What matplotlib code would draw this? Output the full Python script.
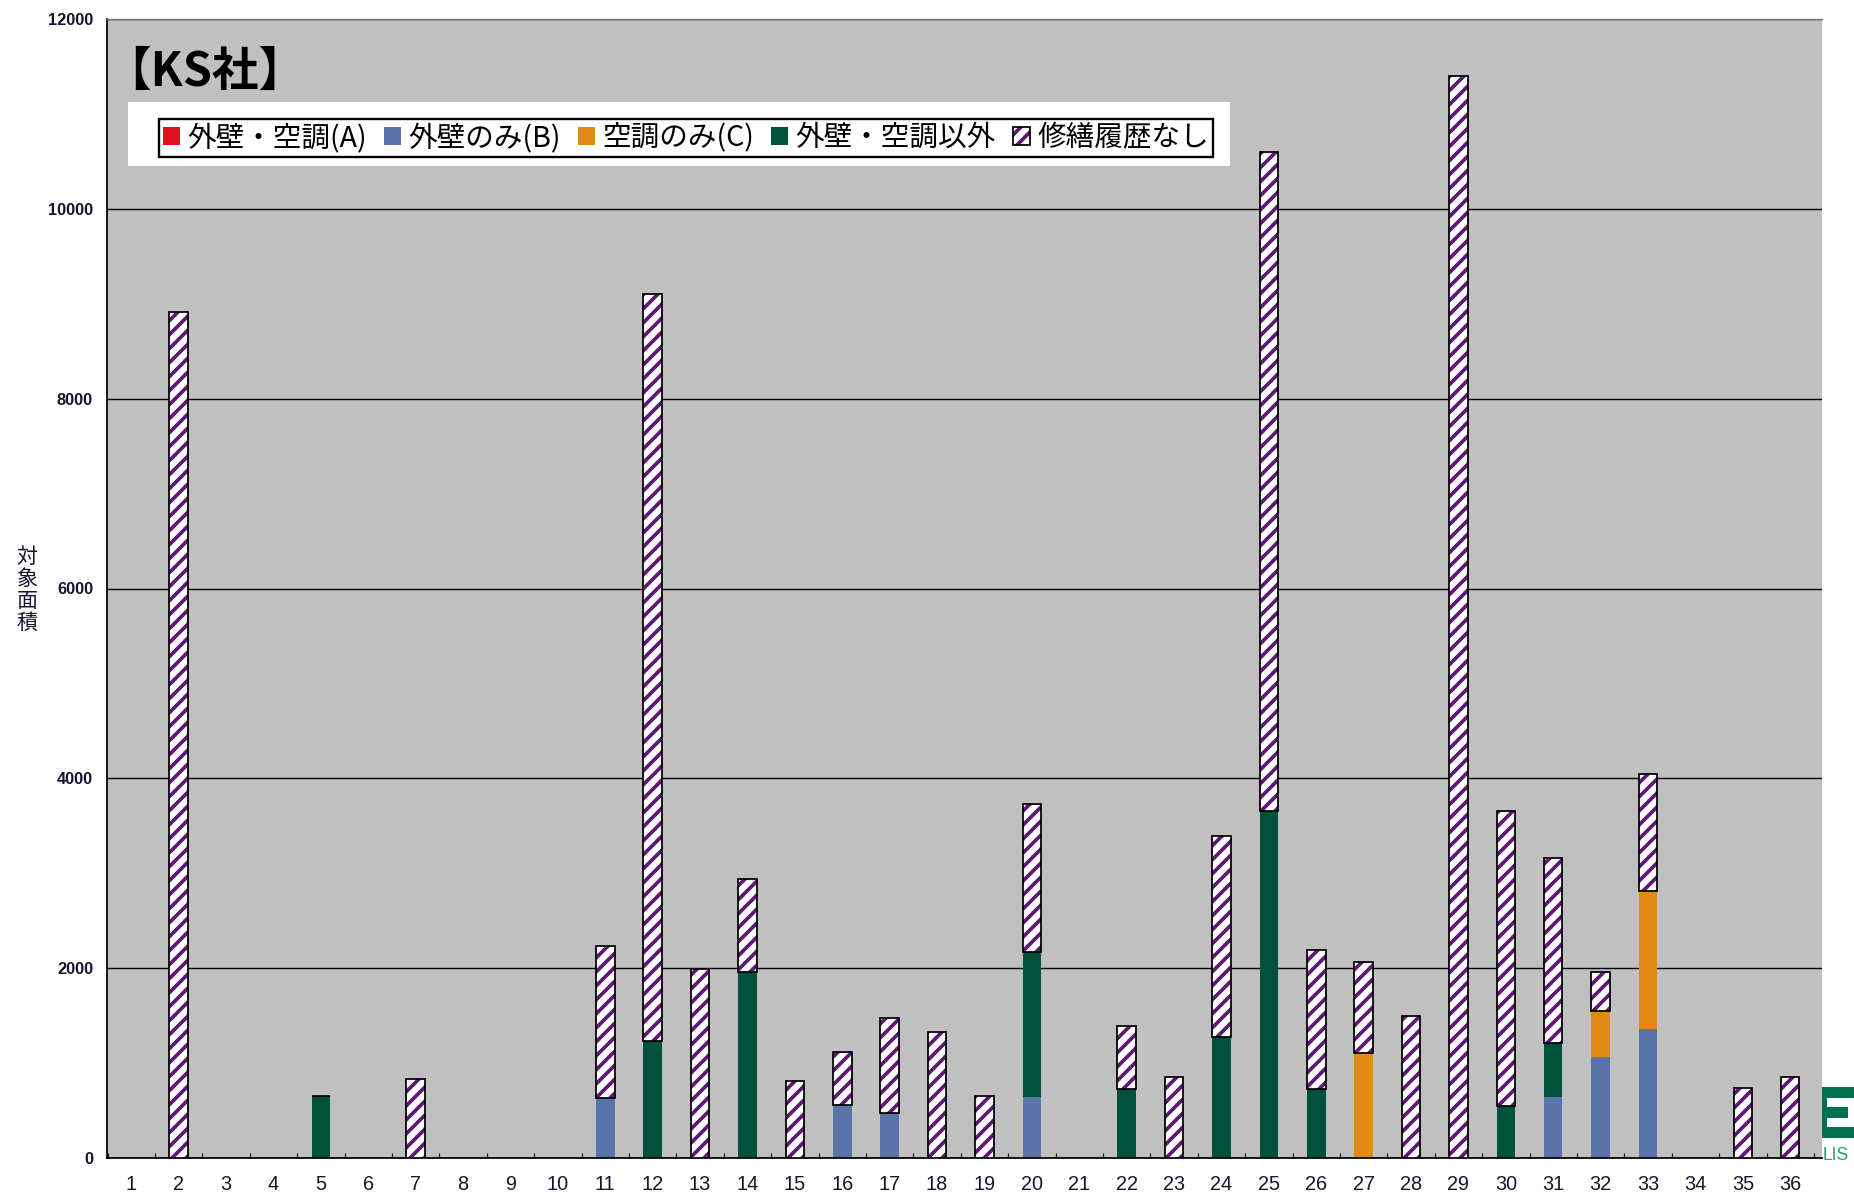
import numpy as np
import matplotlib
matplotlib.use('Agg')
import matplotlib.pyplot as plt
from matplotlib.patches import Patch, Rectangle
from matplotlib.legend_handler import HandlerTuple

plt.rcParams['font.family'] = ['Noto Sans CJK JP', 'DejaVu Sans']
plt.rcParams['hatch.linewidth'] = 3.2

# building numbers 1..36
buildings = np.arange(1, 37)
labels = [str(b) for b in buildings]

# target area per category (stacked bottom to top)
wall_ac = [0] * 36  # 外壁・空調(A)
wall_only = [0, 0, 0, 0, 0, 0, 0, 0, 0, 0,
             630, 0, 0, 0, 0, 555, 470, 0, 0, 645,
             0, 0, 0, 0, 0, 0, 0, 0, 0, 0,
             645, 1065, 1360, 0, 0, 0]
ac_only = [0, 0, 0, 0, 0, 0, 0, 0, 0, 0,
           0, 0, 0, 0, 0, 0, 0, 0, 0, 0,
           0, 0, 0, 0, 0, 0, 1110, 0, 0, 0,
           0, 485, 1455, 0, 0, 0]
other = [0, 0, 0, 0, 650, 0, 0, 0, 0, 0,
         0, 1235, 0, 1955, 0, 0, 0, 0, 0, 1530,
         0, 730, 0, 1270, 3655, 730, 0, 0, 0, 550,
         565, 0, 0, 0, 0, 0]
no_history = [0, 8910, 0, 0, 0, 0, 830, 0, 0, 0,
              1600, 7865, 1990, 980, 815, 560, 1000, 1330, 650, 1555,
              0, 665, 850, 2125, 6945, 1465, 950, 1495, 11400, 3105,
              1950, 410, 1230, 0, 735, 855]

series_names = ['外壁・空調(A)', '外壁のみ(B)', '空調のみ(C)', '外壁・空調以外', '修繕履歴なし']
colors = ['#E0101F', '#5A73A8', '#E08A14', '#00513A']
hatch_purple = '#5E1A72'

DPI = 84
fig = plt.figure(figsize=(1854 / DPI, 1196 / DPI), dpi=DPI)
ax = fig.add_axes([107 / 1854, 1 - 1158 / 1196, (1822 - 107) / 1854, (1158 - 19) / 1196])
ax.set_facecolor('#C0C0C0')

width = 0.39
bottom = np.zeros(36)
for vals, c in zip([wall_ac, wall_only, ac_only, other], colors):
    vals = np.array(vals, dtype=float)
    ax.bar(buildings, vals, width, bottom=bottom, color=c, linewidth=0, zorder=2)
    bottom += vals

# hatched part only for buildings that have any area
nh = np.array(no_history, dtype=float)
has = (bottom + nh) > 0
ax.bar(buildings[has], nh[has], width, bottom=bottom[has], facecolor='white',
       edgecolor=hatch_purple, hatch='//', linewidth=0, zorder=3)
ax.bar(buildings[has], nh[has], width, bottom=bottom[has], fill=False,
       edgecolor='black', linewidth=1.5, zorder=4)

ax.set_xlim(0.487, 36.67)
ax.set_ylim(0, 12000)
ax.set_yticks(np.arange(0, 12001, 2000))
ax.yaxis.grid(True, color='black', linewidth=1.2, zorder=1)
ax.set_axisbelow(True)

ax.set_xticks(buildings)
ax.set_xticklabels(labels, family=['Liberation Sans', 'DejaVu Sans'],
                   fontsize=17, color='#141430')
ax.set_xticks(np.arange(0.5, 37, 1), minor=True)
ax.tick_params(axis='x', which='major', length=0, pad=15)
ax.tick_params(axis='x', which='minor', direction='in', length=4.5, width=1, color='black')
ax.tick_params(axis='y', length=0, pad=12)
for t in ax.get_yticklabels():
    t.set_family(['Liberation Sans', 'DejaVu Sans'])
    t.set_fontweight('bold')
    t.set_fontsize(14)
    t.set_color('#141430')

ax.spines['right'].set_visible(False)
ax.spines['top'].set_color('#7A7A7A')
ax.spines['top'].set_linewidth(1.2)
ax.spines['left'].set_linewidth(1.5)
ax.spines['bottom'].set_linewidth(1.5)

fig.text(27 / 1854, 1 - 590 / 1196, '対\n象\n面\n積', ha='center', va='center',
         fontsize=18, linespacing=1.0, color='#141430')

fig.text(104 / 1854, 1 - 72 / 1196, '【KS社】', ha='left', va='center',
         fontsize=40, fontweight='bold', color='black')

# legend: white band with a black-bordered box
fig.add_artist(Rectangle((128 / 1854, 1 - 166 / 1196), (1230 - 128) / 1854, 64 / 1196,
                         transform=fig.transFigure, facecolor='white', edgecolor='none'))
handles = [Patch(facecolor=c, edgecolor='none') for c in colors]
handles.append((Patch(facecolor='white', edgecolor=hatch_purple, hatch='//', linewidth=0),
                Patch(fill=False, edgecolor='black', linewidth=1.5)))
leg = fig.legend(handles, series_names, loc='center',
                 bbox_to_anchor=(686 / 1854, 1 - 138 / 1196), ncol=5,
                 fontsize=24.5, frameon=True, fancybox=False, framealpha=1,
                 edgecolor='black', handlelength=0.6, handleheight=0.6,
                 handletextpad=0.25, columnspacing=0.6, borderpad=0.15,
                 borderaxespad=0, handler_map={tuple: HandlerTuple(ndivide=1, pad=0)})
leg.get_frame().set_linewidth(2)

# logo fragment at the right edge
logo_green = '#00704F'
for y0, y1, x1 in [(1087, 1098, 1854), (1107, 1118, 1848), (1127, 1138, 1854)]:
    fig.add_artist(Rectangle((1822 / 1854, 1 - y1 / 1196), (x1 - 1822) / 1854, (y1 - y0) / 1196,
                             transform=fig.transFigure, facecolor=logo_green, edgecolor='none'))
fig.add_artist(Rectangle((1822 / 1854, 1 - 1138 / 1196), 5 / 1854, 51 / 1196,
                         transform=fig.transFigure, facecolor=logo_green, edgecolor='none'))
fig.text(1823 / 1854, 1 - 1155 / 1196, 'LIS', ha='left', va='center',
         family=['Liberation Sans', 'DejaVu Sans'], fontsize=15, color='#2E9A6A')

fig.savefig('out.png', dpi=DPI, facecolor='white')
